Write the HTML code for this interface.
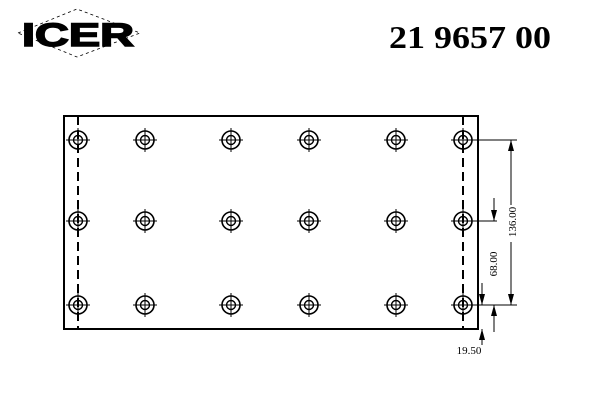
<!DOCTYPE html>
<html><head><style>body{margin:0;background:#fff}</style></head><body>
<svg width="600" height="400" xmlns="http://www.w3.org/2000/svg" font-family="Liberation Serif, serif">
<defs>
<g id="h" stroke="#000" fill="none">
<circle r="9" stroke-width="1.6"/><circle r="4.5" stroke-width="1.4"/>
<line x1="-12" x2="12" stroke-width="1"/><line y1="-12" y2="12" stroke-width="1"/>
</g>
</defs>
<rect width="600" height="400" fill="#fff"/>
<polygon points="18,33 77,9 140,33 77,57" fill="none" stroke="#000" stroke-width="0.8" stroke-dasharray="3,3"/>
<text x="78" y="46" font-family="Liberation Sans, sans-serif" font-weight="900" font-size="32" text-anchor="middle" textLength="112" lengthAdjust="spacingAndGlyphs" stroke="#000" stroke-width="1.5">ICER</text>
<text x="470" y="48" font-weight="bold" font-size="32" text-anchor="middle" textLength="162" lengthAdjust="spacingAndGlyphs">21 9657 00</text>
<rect x="64" y="116" width="414" height="213" fill="none" stroke="#000" stroke-width="2"/>
<line x1="78" y1="116" x2="78" y2="329" stroke="#000" stroke-width="2" stroke-dasharray="9,5"/>
<line x1="463" y1="116" x2="463" y2="329" stroke="#000" stroke-width="2" stroke-dasharray="9,5"/>
<g>
<use href="#h" x="78" y="140"/><use href="#h" x="145" y="140"/><use href="#h" x="231" y="140"/><use href="#h" x="309" y="140"/><use href="#h" x="396" y="140"/><use href="#h" x="463" y="140"/>
<use href="#h" x="78" y="221"/><use href="#h" x="145" y="221"/><use href="#h" x="231" y="221"/><use href="#h" x="309" y="221"/><use href="#h" x="396" y="221"/><use href="#h" x="463" y="221"/>
<use href="#h" x="78" y="305"/><use href="#h" x="145" y="305"/><use href="#h" x="231" y="305"/><use href="#h" x="309" y="305"/><use href="#h" x="396" y="305"/><use href="#h" x="463" y="305"/>
</g>
<g stroke="#000" stroke-width="1">
<line x1="475" y1="140" x2="517" y2="140"/>
<line x1="475" y1="221" x2="497" y2="221"/>
<line x1="475" y1="305" x2="517" y2="305"/>
<line x1="511" y1="140" x2="511" y2="205"/>
<line x1="511" y1="242" x2="511" y2="305"/>
<line x1="494" y1="198" x2="494" y2="221"/>
<line x1="494" y1="305" x2="494" y2="332"/>
<line x1="482" y1="283" x2="482" y2="305"/>
<line x1="482" y1="329" x2="482" y2="345"/>
</g>
<g fill="#000">
<polygon points="511,140 508,151 514,151"/>
<polygon points="511,305 508,294 514,294"/>
<polygon points="494,221 491,210 497,210"/>
<polygon points="494,305 491,316 497,316"/>
<polygon points="482,305 479,294 485,294"/>
<polygon points="482,329 479,340 485,340"/>
</g>
<text transform="translate(516,222) rotate(-90)" font-size="11" text-anchor="middle">136.00</text>
<text transform="translate(497,264) rotate(-90)" font-size="11" text-anchor="middle">68.00</text>
<text x="469" y="354" font-size="11" text-anchor="middle">19.50</text>
</svg>
</body></html>
